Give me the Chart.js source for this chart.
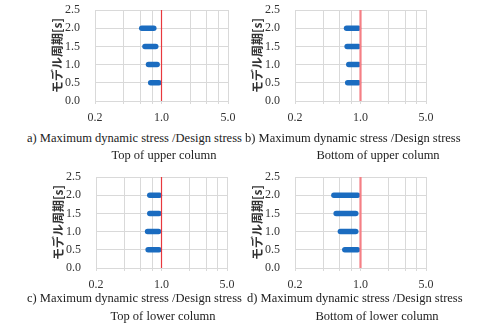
<!DOCTYPE html>
<html>
<head>
<meta charset="utf-8">
<script src="https://cdn.jsdelivr.net/npm/chart.js@4"></script>
<style>
  html, body { margin: 0; padding: 0; background: #fff; }
  #page { position: relative; width: 486px; height: 333px; overflow: hidden; }
  .panel { position: absolute; }
  .cap { position: absolute; font-family: "Liberation Serif", serif; font-size: 12.5px; line-height: 16px; color: #222; white-space: nowrap; }
  .sub { width: 200px; text-align: center; }
</style>
</head>
<body>
<div id="page">
  <div class="panel" style="left:0;top:0"><canvas id="ca" width="243" height="130"></canvas></div>
  <div class="panel" style="left:243px;top:0"><canvas id="cb" width="243" height="130"></canvas></div>
  <div class="panel" style="left:0;top:160px"><canvas id="cc" width="243" height="135"></canvas></div>
  <div class="panel" style="left:243px;top:160px"><canvas id="cd" width="243" height="135"></canvas></div>

  <div class="cap" style="left:27px;top:130px">a) Maximum dynamic stress /Design stress</div>
  <div class="cap sub" style="left:64px;top:147px">Top of upper column</div>
  <div class="cap" style="left:245px;top:130px">b) Maximum dynamic stress /Design stress</div>
  <div class="cap sub" style="left:278px;top:147px">Bottom of upper column</div>

  <div class="cap" style="left:27px;top:290px">c) Maximum dynamic stress /Design stress</div>
  <div class="cap sub" style="left:63px;top:308px">Top of lower column</div>
  <div class="cap" style="left:247px;top:290px">d) Maximum dynamic stress /Design stress</div>
  <div class="cap sub" style="left:277px;top:308px">Bottom of lower column</div>
</div>
<script>
// モデル周期 (y) for each band
const periods = [0.5, 1.0, 1.5, 2.0];

// stress ratio range per period
const aMin = [0.77, 0.73, 0.67, 0.62];
const aMax = [0.94, 0.90, 0.87, 0.83];
const bMin = [0.73, 0.75, 0.72, 0.71];
const bMax = [0.95, 0.95, 0.95, 0.95];
const cMin = [0.72, 0.71, 0.75, 0.75];
const cMax = [0.94, 0.93, 0.94, 0.95];
const dMin = [0.68, 0.61, 0.55, 0.52];
const dMax = [0.93, 0.89, 0.89, 0.93];

// red reference line at ratio 1.0
const refX = [1.0, 1.0];
const refY = [0.0, 2.5];

// log axis grid (base 5 style) and labelled ticks
const xGrid = [0.2, 0.4, 0.6, 0.8, 1.0, 2.0, 3.0, 4.0, 5.0];
const xLabels = [0.2, 1.0, 5.0];
const yTicks = [0.0, 0.5, 1.0, 1.5, 2.0, 2.5];

const blue = '#1b6cc0';
const gridCol = '#d9d9d9';
const tickFont = { family: 'Liberation Serif', size: 12 };

function makeChart(id, lo, hi, pad, xH, redStyle) {
    let datasets = periods.map((p, i) => ({
        data: [{ x: lo[i], y: p }, { x: hi[i], y: p }],
        borderColor: blue,
        borderWidth: 5.5,
        borderCapStyle: 'round',
        pointRadius: 0,
        order: 2
    }));
    datasets.push({
        data: refX.map((x, i) => ({ x: x, y: refY[i] })),
        borderColor: redStyle.color,
        borderWidth: redStyle.width,
        pointRadius: 0,
        order: 1
    });

    new Chart(document.getElementById(id), {
        type: 'line',
        data: { datasets: datasets },
        options: {
            responsive: false,
            animation: false,
            layout: { padding: pad },
            plugins: { legend: { display: false }, tooltip: { enabled: false } },
            scales: {
                x: {
                    type: 'logarithmic',
                    min: 0.2,
                    max: 5,
                    afterBuildTicks: s => { s.ticks = xGrid.map(v => ({ value: v })); },
                    afterFit: s => { s.height = xH; },
                    grid: { color: gridCol, tickLength: 3 },
                    border: { color: gridCol },
                    ticks: {
                        autoSkip: false,
                        maxRotation: 0,
                        padding: 7,
                        color: '#333',
                        font: tickFont,
                        callback: v => xLabels.includes(v) ? v.toFixed(1) : ''
                    }
                },
                y: {
                    type: 'linear',
                    min: 0,
                    max: 2.5,
                    afterBuildTicks: s => { s.ticks = yTicks.map(v => ({ value: v })); },
                    afterFit: s => { s.width = 52; },
                    grid: { color: gridCol, tickLength: 14, tickColor: 'rgba(0,0,0,0)' },
                    border: { color: gridCol },
                    ticks: {
                        autoSkip: false,
                        padding: 1,
                        color: '#333',
                        font: tickFont,
                        callback: v => v.toFixed(1)
                    },
                    title: {
                        display: true,
                        text: 'モデル周期[s]',
                        color: '#333',
                        padding: { top: 7, bottom: 0 },
                        font: { family: 'Noto Sans CJK JP', size: 12, weight: 'bold' }
                    }
                }
            }
        }
    });
}

const thinRed = { color: '#e8383d', width: 1.2 };
const wideRed = { color: '#f57f85', width: 2.2 };

makeChart('ca', aMin, aMax, { left: 43, top: 10, right: 15, bottom: 0 }, 29, thinRed);
makeChart('cb', bMin, bMax, { left: 0, top: 10, right: 60, bottom: 0 }, 29, wideRed);
makeChart('cc', cMin, cMax, { left: 44, top: 17, right: 16, bottom: 0 }, 27, thinRed);
makeChart('cd', dMin, dMax, { left: 0, top: 17, right: 60, bottom: 0 }, 27, wideRed);
</script>
</body>
</html>
